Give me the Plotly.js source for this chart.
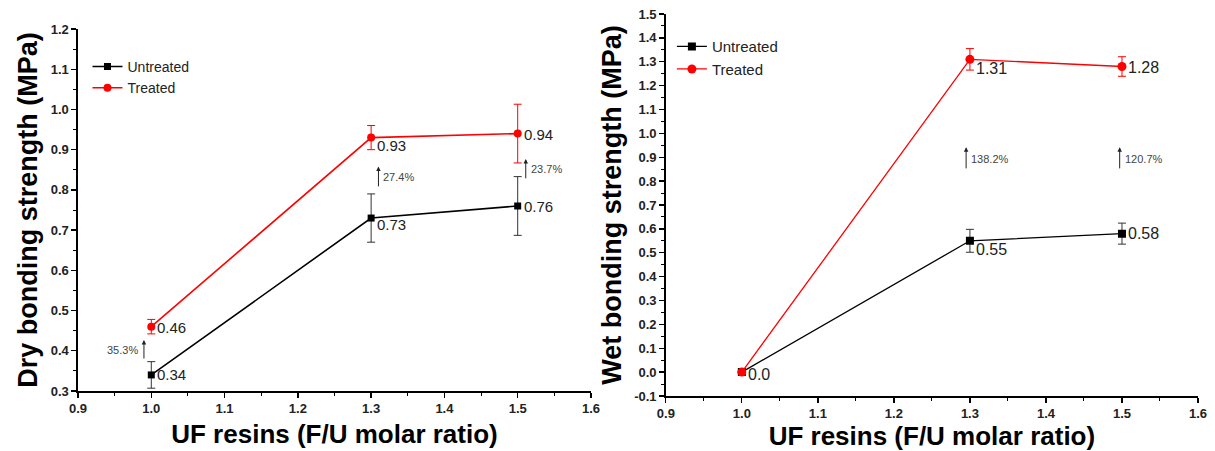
<!DOCTYPE html>
<html>
<head>
<meta charset="utf-8">
<script src="https://cdn.plot.ly/plotly-3.0.1.min.js"></script>
<style>html,body{margin:0;padding:0;background:#fff;}#chart{width:1215px;height:451px;}</style>
</head>
<body>
<div id="chart"></div>
<script>
// ---- data ----
const ratios = [1.0, 1.3, 1.5];
const dryUntreated = [0.34, 0.73, 0.76];
const dryUntreatedErr = [0.033, 0.06, 0.073];
const dryTreated = [0.46, 0.93, 0.94];
const dryTreatedErr = [0.018, 0.03, 0.073];
const wetUntreated = [0.0, 0.55, 0.58];
const wetUntreatedErr = [0.0, 0.048, 0.044];
const wetTreated = [0.0, 1.31, 1.28];
const wetTreatedErr = [0.0, 0.045, 0.041];
const dryUntreatedLabels = ['0.34', '0.73', '0.76'];
const dryTreatedLabels = ['0.46', '0.93', '0.94'];
const wetUntreatedLabels = ['', '0.55', '0.58'];
const wetTreatedLabels = ['0.0', '1.31', '1.28'];
const dryIncrease = ['35.3%', '27.4%', '23.7%'];
const dryArrowX = [0.99, 1.31, 1.511];
const dryArrowFrom = [0.377, 0.805, 0.825];
const dryArrowTo = [0.427, 0.858, 0.877];
const wetIncrease = ['138.2%', '120.7%'];
const wetArrowX = [1.295, 1.497];
const wetArrowFrom = [0.847, 0.847];
const wetArrowTo = [0.942, 0.942];
// tick labels
const xTicks = ['0.9', '1.0', '1.1', '1.2', '1.3', '1.4', '1.5', '1.6'];
const dryYTicks = ['0.3', '0.4', '0.5', '0.6', '0.7', '0.8', '0.9', '1.0', '1.1', '1.2'];
const wetYTicks = ['-0.1', '0.0', '0.1', '0.2', '0.3', '0.4', '0.5', '0.6', '0.7', '0.8', '0.9', '1.0', '1.1', '1.2', '1.3', '1.4', '1.5'];

const FONT = 'Liberation Sans, Arial, sans-serif';
const RED = '#ff0000';

const traces = [
  {x: ratios, y: dryUntreated, xaxis: 'x', yaxis: 'y', name: 'Untreated', legend: 'legend',
   mode: 'lines+markers', line: {color: '#000', width: 1.6}, marker: {symbol: 'square', size: 7, color: '#000'},
   error_y: {type: 'data', array: dryUntreatedErr, color: '#333', thickness: 1, width: 4}},
  {x: ratios, y: dryTreated, xaxis: 'x', yaxis: 'y', name: 'Treated', legend: 'legend',
   mode: 'lines+markers', line: {color: RED, width: 1.6}, marker: {symbol: 'circle', size: 8, color: RED},
   error_y: {type: 'data', array: dryTreatedErr, color: RED, thickness: 1, width: 4}},
  {x: ratios, y: wetUntreated, xaxis: 'x2', yaxis: 'y2', name: 'Untreated', legend: 'legend2',
   mode: 'lines+markers', line: {color: '#000', width: 1.3}, marker: {symbol: 'square', size: 8, color: '#000'},
   error_y: {type: 'data', array: wetUntreatedErr, color: '#333', thickness: 1, width: 4}},
  {x: ratios, y: wetTreated, xaxis: 'x2', yaxis: 'y2', name: 'Treated', legend: 'legend2',
   mode: 'lines+markers', line: {color: RED, width: 1.3}, marker: {symbol: 'circle', size: 9, color: RED},
   error_y: {type: 'data', array: wetTreatedErr, color: RED, thickness: 1, width: 4}}
];

const annotations = [];
function label(xa, ya, x, y, text, dy, size) {
  if (!text) return;
  annotations.push({xref: xa, yref: ya, x: x, y: y, text: text, showarrow: false,
    xanchor: 'left', yanchor: 'middle', xshift: 4, yshift: -dy,
    font: {family: FONT, size: size, color: '#222'}});
}
const dryUOff = [0, 6, 1], dryTOff = [1, 8, 1];
const wetUOff = [0, 9, 0], wetTOff = [2, 9, 1];
ratios.forEach((r, i) => {
  label('x', 'y', r, dryUntreated[i], dryUntreatedLabels[i], dryUOff[i], 15);
  label('x', 'y', r, dryTreated[i], dryTreatedLabels[i], dryTOff[i], 15);
  label('x2', 'y2', r, wetUntreated[i], wetUntreatedLabels[i], wetUOff[i], 16);
  label('x2', 'y2', r, wetTreated[i], wetTreatedLabels[i], wetTOff[i], 16);
});
function arrow(xa, ya, x, y0, y1, text, side) {
  annotations.push({xref: xa, yref: ya, axref: xa, ayref: ya, x: x, y: y1, ax: x, ay: y0,
    text: '', showarrow: true, arrowhead: 2, arrowsize: 0.9, arrowwidth: 1, arrowcolor: '#222'});
  annotations.push({xref: xa, yref: ya, x: x, y: (y0 + y1) / 2, text: text, showarrow: false,
    xanchor: side === 'left' ? 'right' : 'left', xshift: side === 'left' ? -4 : 3,
    font: {family: FONT, size: 11, color: '#444'}});
}
dryIncrease.forEach((t, i) => arrow('x', 'y', dryArrowX[i], dryArrowFrom[i], dryArrowTo[i], t, i === 0 ? 'left' : 'right'));
wetIncrease.forEach((t, i) => arrow('x2', 'y2', wetArrowX[i], wetArrowFrom[i], wetArrowTo[i], t, 'right'));

const bold = a => a.map(s => '<b>' + s + '</b>');
const nums = a => a.map(Number);

function xaxis(domain, anchor) {
  return {domain: domain, anchor: anchor, range: [0.9, 1.6],
    tickmode: 'array', tickvals: nums(xTicks), ticktext: bold(xTicks),
    showgrid: false, zeroline: false, showline: true, linecolor: '#000', linewidth: 1.6,
    ticks: 'outside', ticklen: 5, tickwidth: 1.3, tickcolor: '#000',
    minor: {dtick: 0.05, tick0: 0.9, ticklen: 3, tickwidth: 1, tickcolor: '#000', ticks: 'outside', showgrid: false},
    tickfont: {family: FONT, size: 13, color: '#222'},
    title: {text: '<b>UF resins (F/U molar ratio)</b>', standoff: 9, font: {family: FONT, size: 26, color: '#000'}}};
}
function yaxis(domain, anchor, range, ticks, title) {
  return {domain: domain, anchor: anchor, range: range,
    tickmode: 'array', tickvals: nums(ticks), ticktext: bold(ticks),
    showgrid: false, zeroline: false, showline: true, linecolor: '#000', linewidth: 1.6,
    ticks: 'outside', ticklen: 5, tickwidth: 1.3, tickcolor: '#000',
    minor: {dtick: 0.05, tick0: 0, ticklen: 3, tickwidth: 1, tickcolor: '#000', ticks: 'outside', showgrid: false},
    tickfont: {family: FONT, size: 13, color: '#222'},
    title: {text: '<b>' + title + '</b>', standoff: 5, font: {family: FONT, size: 27, color: '#000'}}};
}

const layout = {
  width: 1215, height: 451, margin: {l: 0, r: 0, t: 0, b: 0},
  paper_bgcolor: '#fff', plot_bgcolor: '#fff',
  font: {family: FONT},
  xaxis: xaxis([0.0642, 0.4864], 'y'),
  yaxis: yaxis([0.133, 0.9357], 'x', [0.3, 1.2], dryYTicks, 'Dry bonding strength (MPa)'),
  xaxis2: xaxis([0.548, 0.986], 'y2'),
  yaxis2: yaxis([0.122, 0.969], 'x2', [-0.1, 1.5], wetYTicks, 'Wet bonding strength (MPa)'),
  legend: {x: 0.072, y: 0.887, xanchor: 'left', yanchor: 'top', bgcolor: 'rgba(0,0,0,0)',
    font: {family: FONT, size: 14, color: '#222'}, itemwidth: 30, tracegroupgap: 0},
  legend2: {x: 0.553, y: 0.933, xanchor: 'left', yanchor: 'top', bgcolor: 'rgba(0,0,0,0)',
    font: {family: FONT, size: 15, color: '#222'}, itemwidth: 30, tracegroupgap: 0},
  annotations: annotations,
  showlegend: true
};

Plotly.newPlot('chart', traces, layout, {displayModeBar: false, staticPlot: true});
</script>
</body>
</html>
